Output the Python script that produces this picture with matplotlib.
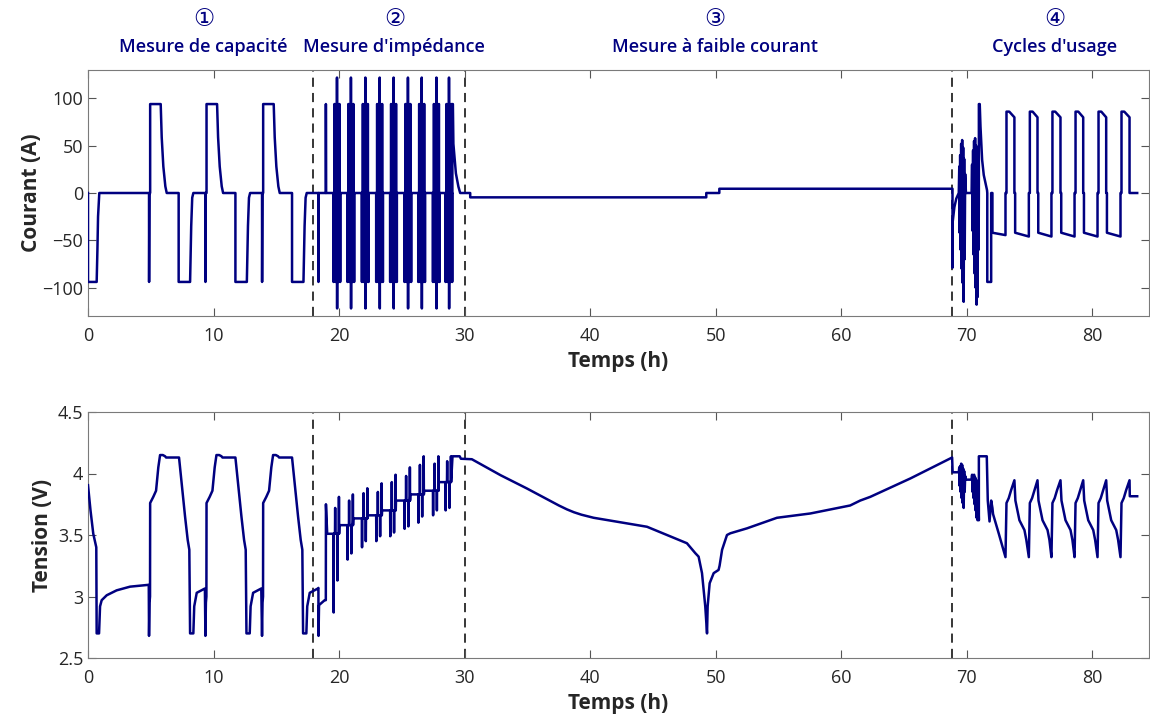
import numpy as np
import matplotlib
matplotlib.use('Agg')
import matplotlib.pyplot as plt

NAVY = '#000080'
FONT = ['Open Sans', 'DejaVu Sans']
plt.rcParams['font.family'] = FONT

# ---------------- Phase titles ----------------
phase_nums = ['①', '②', '③', '④']
phase_labels = ['Mesure de capacité', "Mesure d'impédance",
                'Mesure à faible courant', "Cycles d'usage"]
phase_label_t = [9.2, 24.4, 49.9, 77.0]
phase_bounds = [17.9, 30.0, 68.85]

# ---------------- Phase 1 : capacity (current A / voltage V) ----------------
cap_start_t = [0.0, 0.0, 0.69, 0.75, 0.80, 0.90]
cap_start_i = [0, -94, -94, -60, -25, 0]
cap_spike_t = [4.86, 9.35, 13.86]      # charge beginning (short spike first)
cap_disch_t = [7.22, 11.74, 16.25]     # discharge beginning
chg_off = [0, 0.005, 0.03, 0.09, 0.09, 0.93, 1.01, 1.14, 1.30, 1.41]
chg_val = [0, -94, 0, 0, 94, 94, 59, 28, 7, 0]
dis_off = [0, 0, 0.91, 1.00, 1.08, 1.17]
dis_val = [0, -94, -94, -35, -5, 0]

cap_v_start_t = [0.0, 0.20, 0.42, 0.66, 0.69, 0.88, 0.96, 1.09, 1.49, 2.28, 3.35, 4.84]
cap_v_start = [3.905, 3.70, 3.51, 3.40, 2.70, 2.70, 2.92, 2.97, 3.01, 3.05, 3.08, 3.095]
cap_v_off = [0, 0.04, 0.08, 0.09, 0.34, 0.56, 0.74, 0.88, 1.10, 1.28, 1.36, 2.39,
             2.60, 2.87, 3.08, 3.21, 3.27, 3.53, 3.60, 3.80, 4.45]
cap_v_val = [2.68, 2.95, 3.00, 3.76, 3.81, 3.86, 4.05, 4.15, 4.15, 4.14, 4.13, 4.13,
             3.92, 3.65, 3.46, 3.38, 2.70, 2.70, 2.92, 3.03, 3.065]

# transition to impedance phase
pre_imp_t = [18.35, 18.355, 18.37, 18.94, 18.945, 18.96]
pre_imp_i = [0, -94, 0, 0, 94, 0]
pre_imp_vt = [18.35, 18.36, 18.40, 18.85, 18.94, 18.95, 19.05, 19.55]
pre_imp_v = [3.07, 2.68, 2.93, 2.97, 2.97, 3.75, 3.51, 3.51]

# ---------------- Phase 2 : impedance pulses ----------------
imp_t0 = [19.55, 20.66, 21.81, 22.95, 24.06, 25.20, 26.30, 27.47, 28.47]
imp_pulse_off = [0.00, 0.07, 0.15, 0.20, 0.28, 0.29, 0.33, 0.41, 0.46, 0.53]
imp_pulse_dur = [0.01, 0.025, 0.01, 0.03, 0.006, 0.006, 0.03, 0.01, 0.025, 0.01]
imp_pulse_i = [-94, 94, -94, 94, 122, -122, 94, -94, 94, -94]
# voltage response per group: dip (first), low peak, dip, high peak
imp_v_spike_off = [0.00, 0.12, 0.30, 0.42]
imp_v_rest = [3.51, 3.58, 3.635, 3.66, 3.70, 3.78, 3.83, 3.86, 3.93]
imp_v_peak_lo = [3.72, 3.78, 3.84, 3.85, 3.93, 3.98, 4.07, 4.08, 4.10]
imp_v_peak = [3.81, 3.83, 3.88, 3.92, 3.99, 4.05, 4.14, 4.14, 4.14]
imp_v_dip1 = [2.87, 3.30, 3.40, 3.45, 3.49, 3.55, 3.60, 3.66, 3.70]
imp_v_dip = [3.13, 3.35, 3.45, 3.49, 3.52, 3.57, 3.65, 3.70, 3.72]

post_imp_t = [29.02, 29.02, 29.06, 29.10, 29.30, 29.50, 29.64, 30.44, 30.44,
              49.24, 49.24, 50.28, 50.28, 68.85]
post_imp_i = [0, 94, 94, 52, 20.7, 6.7, 0, 0, -4.6, -4.6, 0, 0, 4.5, 4.5]
post_imp_vt = [29.03, 29.60, 29.70]
post_imp_v = [4.14, 4.14, 4.12]

# ---------------- Phase 3 : low current (voltage) ----------------
low_t = [30.57, 32.86, 34.96, 37.5, 38.15, 38.7, 39.3, 40.27, 44.52, 46.1, 47.7,
         48.37, 48.63, 48.90, 49.16, 49.30, 49.35, 49.51, 49.83, 50.22, 50.30,
         50.50, 50.89, 51.16, 52.48, 54.87, 57.53, 60.45, 60.7, 61.5, 62.3, 65.5, 68.82]
low_v = [4.116, 3.986, 3.878, 3.74, 3.708, 3.685, 3.665, 3.64, 3.567, 3.50, 3.433,
         3.352, 3.324, 3.19, 2.92, 2.70, 2.92, 3.108, 3.19, 3.216, 3.25,
         3.38, 3.50, 3.514, 3.554, 3.64, 3.675, 3.735, 3.74, 3.78, 3.81, 3.96, 4.13]

# ---------------- Phase 4 : usage cycles ----------------
use_pre_t = [68.85, 68.87, 69.00, 69.15, 69.35]
use_pre_i = [-79, -30, -15, -6, 0]
use_pre_vt = [68.86, 69.35]
use_pre_v = [4.01, 4.01]

burst1_t = [69.35, 69.39, 69.42, 69.46, 69.50, 69.54, 69.58, 69.62, 69.66,
            69.70, 69.74, 69.78, 69.82, 69.86, 69.92]
burst1_i = [0, 28, -42, 40, -60, 52, -80, 56, -95, 48, -115, 36, -70, 20, 0]
burst1_v = [4.01, 4.05, 3.90, 4.06, 3.85, 4.08, 3.80, 4.07, 3.76, 4.04, 3.72,
            4.02, 3.85, 3.98, 3.95]
burst2_t = [70.37, 70.41, 70.45, 70.49, 70.53, 70.57, 70.61, 70.65, 70.69,
            70.73, 70.77, 70.81, 70.85, 70.89, 70.93, 70.95]
burst2_i = [0, 30, -40, 45, -65, 55, -85, 58, -100, 50, -118, 40, -110, 30, -60, 0]
burst2_v = [3.95, 3.99, 3.85, 3.98, 3.80, 3.99, 3.75, 3.97, 3.70, 3.95, 3.64,
            3.93, 3.62, 3.90, 3.70, 3.62]

cv_t = [70.95, 71.02, 71.08, 71.21, 71.34, 71.50, 71.60, 71.62, 71.62, 71.93,
        71.93, 72.03, 72.03]
cv_i = [94, 94, 70, 35, 19, 9, 3, 0, -94, -94, 0, 0, -42]
cv_vt = [70.95, 71.58, 71.66, 71.80, 71.93, 72.03, 72.08, 72.54]
cv_v = [4.14, 4.14, 3.78, 3.61, 3.78, 3.72, 3.67, 3.51]

use_chg_t = [73.07, 74.93, 76.73, 78.57, 80.40, 82.23]
use_end_t = [73.78, 75.62, 77.45, 79.26, 81.09, 82.95]
use_dis_end_i = [-44.5, -46, -46, -46, -46, -46]
use_chg_hi = 86
use_chg_lo = 80
use_dis_i = -42
use_v_rise_off = [0.0, 0.08, 0.26, 0.45]
use_v_rise = [3.32, 3.76, 3.80, 3.865]
use_v_peak = 3.945
use_v_fall_off = [0.08, 0.40, 0.80, 0.95]
use_v_fall = [3.78, 3.62, 3.54, 3.46]
use_end_v = [3.815, 3.815]
t_end = 83.56

# ---------------- build series ----------------
Ti, I = [], []
Tv, V = [], []


def add(tl, vl, t, v):
    tl.extend(list(t))
    vl.extend(list(v))


# current
add(Ti, I, cap_start_t, cap_start_i)
for s, d in zip(cap_spike_t, cap_disch_t):
    add(Ti, I, [s + o for o in chg_off], chg_val)
    add(Ti, I, [d + o for o in dis_off], dis_val)
add(Ti, I, pre_imp_t, pre_imp_i)
for t0 in imp_t0:
    for o, du, val in zip(imp_pulse_off, imp_pulse_dur, imp_pulse_i):
        add(Ti, I, [t0 + o, t0 + o, t0 + o + du, t0 + o + du], [0, val, val, 0])
add(Ti, I, post_imp_t, post_imp_i)
add(Ti, I, use_pre_t, use_pre_i)
add(Ti, I, burst1_t, burst1_i)
add(Ti, I, burst2_t, burst2_i)
add(Ti, I, cv_t, cv_i)
for k, (tc, te) in enumerate(zip(use_chg_t, use_end_t)):
    add(Ti, I, [tc, tc, tc + 0.08, tc + 0.08, tc + 0.30, te, te],
        [use_dis_end_i[k], 0, 0, use_chg_hi, use_chg_hi, use_chg_lo, 0])
    if k < len(use_chg_t) - 1:
        add(Ti, I, [te + 0.06, te + 0.06], [0, use_dis_i])
add(Ti, I, [t_end], [0])

# voltage
add(Tv, V, cap_v_start_t, cap_v_start)
for s in cap_spike_t:
    add(Tv, V, [s + o for o in cap_v_off], cap_v_val)
add(Tv, V, pre_imp_vt, pre_imp_v)
for k, t0 in enumerate(imp_t0):
    rest = imp_v_rest[k]
    levels = [imp_v_dip1[k], imp_v_peak_lo[k], imp_v_dip[k], imp_v_peak[k]]
    for o, lv in zip(imp_v_spike_off, levels):
        add(Tv, V, [t0 + o, t0 + o + 0.015, t0 + o + 0.03], [rest, lv, rest])
    if k + 1 < len(imp_t0):
        add(Tv, V, [t0 + 0.47], [imp_v_rest[k + 1]])
add(Tv, V, post_imp_vt, post_imp_v)
add(Tv, V, low_t, low_v)
add(Tv, V, use_pre_vt, use_pre_v)
add(Tv, V, burst1_t, burst1_v)
add(Tv, V, burst2_t, burst2_v)
add(Tv, V, cv_vt, cv_v)
for k, (tc, te) in enumerate(zip(use_chg_t, use_end_t)):
    add(Tv, V, [tc + o for o in use_v_rise_off], use_v_rise)
    add(Tv, V, [te], [use_v_peak])
    if k < len(use_chg_t) - 1:
        add(Tv, V, [te + o for o in use_v_fall_off], use_v_fall)
    else:
        add(Tv, V, [te + 0.02, t_end], use_end_v)

# ---------------- plotting ----------------
fig = plt.figure(figsize=(11.5, 7.18), dpi=100)
ax1 = fig.add_axes([88 / 1150, 1 - 316 / 718, 1061 / 1150, 246 / 718])
ax2 = fig.add_axes([88 / 1150, 1 - 658 / 718, 1061 / 1150, 246 / 718])

TXT = '#262626'
for ax in (ax1, ax2):
    ax.set_xlim(0, 84.5)
    ax.set_xticks(range(0, 81, 10))
    ax.tick_params(direction='in', top=True, right=True, length=6, width=0.8,
                   color='#555555', labelcolor=TXT, labelsize=13)
    ax.tick_params(axis='x', pad=8)
    for sp in ax.spines.values():
        sp.set_color('#7a7a7a')
        sp.set_linewidth(0.8)
    for b in phase_bounds:
        ax.axvline(b, color='black', lw=1.1, ls=(0, (6, 4)), zorder=1)
    ax.set_xlabel('Temps (h)', fontsize=15, fontweight='bold', color=TXT, labelpad=4)

ax1.plot(Ti, I, color=NAVY, lw=1.8, zorder=3)
ax1.set_ylim(-130, 130)
ax1.set_yticks([-100, -50, 0, 50, 100])
ax1.set_ylabel('Courant (A)', fontsize=15, fontweight='bold', color=TXT, labelpad=0)

ax2.plot(Tv, V, color=NAVY, lw=1.8, zorder=3)
ax2.set_ylim(2.5, 4.5)
ax2.set_yticks([2.5, 3, 3.5, 4, 4.5])
ax2.set_yticklabels(['2.5', '3', '3.5', '4', '4.5'])
ax2.set_ylabel('Tension (V)', fontsize=15, fontweight='bold', color=TXT, labelpad=3)

for num, lab, t in zip(phase_nums, phase_labels, phase_label_t):
    ax1.text(t, 1 + (70 - 19) / 246, num, transform=ax1.get_xaxis_transform(),
             ha='center', va='center', fontsize=17, color=NAVY,
             family=['DejaVu Sans'])
    ax1.text(t, 1 + (70 - 47) / 246, lab, transform=ax1.get_xaxis_transform(),
             ha='center', va='center', fontsize=13, fontweight='semibold', color=NAVY)

fig.savefig('out.png', dpi=100)
